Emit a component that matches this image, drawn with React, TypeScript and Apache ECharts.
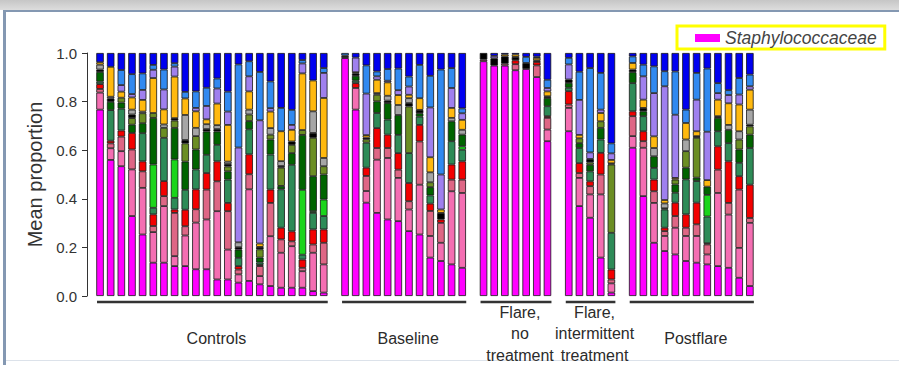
import React, { useEffect, useRef } from 'react';
import * as echarts from 'echarts';

const FONT = '"Liberation Sans", Arial, Helvetica, sans-serif';

// Stack order, bottom to top
const taxa = [
  'Staphylococcaceae', 'Taxon 2', 'Taxon 3', 'Taxon 4', 'Taxon 5', 'Taxon 6', 'Taxon 7',
  'Taxon 8', 'Taxon 9', 'Taxon 10', 'Taxon 11', 'Taxon 12', 'Taxon 13', 'Taxon 14',
];
const taxonColors = [
  '#FF00FF', '#F46EB2', '#DE6685', '#F20000', '#2E8B57', '#1BD51B', '#006400',
  '#6B8E23', '#000000', '#A6A6A6', '#FFB90F', '#9F80EE', '#3189F0', '#0000F0',
];

const groupLabels = ['Controls', 'Baseline', 'Flare,\nno\ntreatment', 'Flare,\nintermittent\ntreatment', 'Postflare'];

// each row: one sample, proportions in stack order
const controls = [
  [.767, .07, .015, .02, .01, 0, .04, 0, .01, .02, .01, 0, 0, .038],
  [.56, .048, .02, .011, .126, 0, .034, 0, .014, .007, .123, 0, 0, .057],
  [.534, .062, .06, .025, .09, 0, .025, .02, 0, 0, .025, .027, .062, .07],
  [.329, .192, .082, .068, 0, 0, .034, .027, .015, .02, .05, .014, .082, .087],
  [.253, .192, .068, .041, .116, 0, .041, .041, 0, .007, .048, .041, .068, .084],
  [.137, .126, .025, .048, .027, .178, .192, .02, 0, 0, .144, .034, .02, .049],
  [.137, .233, .041, .062, .178, 0, 0, .041, 0, .014, .062, .082, .082, .068],
  [.123, .041, .178, .014, .048, .158, .13, .03, .01, 0, .171, .041, .014, .042],
  [.123, .126, .038, .068, .082, 0, .116, .075, .014, .103, .068, 0, .027, .16],
  [.11, .192, .055, .082, .082, 0, .082, .055, 0, .034, .068, .014, .068, .158],
  [.11, .205, .123, .068, .075, 0, .096, 0, .01, .02, .02, .055, .075, .143],
  [.068, .281, .123, .082, .068, 0, .055, 0, .01, .016, .089, .062, .041, .105],
  [.068, .123, .158, .034, .096, 0, .034, .02, .01, .01, .151, .055, .082, .159],
  [.055, .034, .02, .014, .034, 0, .034, 0, .01, .02, 0, .39, .342, .047],
  [.062, .377, .062, .082, .103, 0, .034, .027, 0, .02, .075, .062, .062, .034],
  [.048, .034, .041, .005, .01, 0, .02, .034, .01, 0, .014, .507, .199, .078],
  [.041, .205, .137, .055, .144, 0, .062, .02, 0, .027, .068, .014, .11, .117],
  [.034, .144, .055, .048, .158, 0, .014, .075, .007, .02, .123, 0, .096, .226],
  [.034, .171, .02, .041, .274, 0, .048, .034, .014, 0, .048, .02, .062, .234],
  [.034, .068, .014, .034, .02, .267, .226, .02, 0, 0, .233, .041, .014, .029],
  [.02, .158, .034, .062, .068, .007, .144, .158, .02, .089, .127, 0, 0, .113],
  [.014, .116, .089, .055, .055, .068, .103, .034, 0, .034, .247, .103, .02, .062],
];

const baseline = [
  [.979, 0, .005, 0, 0, 0, 0, 0, .006, 0, 0, 0, .01, 0],
  [.767, .089, 0, .02, .01, 0, .02, 0, .01, 0, .005, .06, 0, .019],
  [.384, .048, .062, .034, .103, 0, 0, .014, .007, 0, .01, .171, .116, .051],
  [.342, .219, .048, .082, .062, 0, .048, .027, 0, .007, .055, .014, .02, .076],
  [.315, .253, .041, .055, .062, 0, .068, 0, .01, .02, .055, .007, .048, .066],
  [.308, .178, .034, .068, .075, 0, .082, 0, 0, .041, .041, .02, .089, .064],
  [.267, .089, .034, .075, .123, 0, 0, .192, .014, .02, .014, .034, .041, .097],
  [.253, .205, .178, .068, .034, 0, .014, 0, .014, 0, .048, 0, .137, .049],
  [.158, .089, .103, .03, .034, 0, .034, .02, 0, .041, .062, .205, .13, .094],
  [.144, .075, .082, .014, 0, 0, 0, 0, .027, 0, .014, .144, .432, .068],
  [.13, .301, .048, .062, .096, 0, .082, 0, 0, .014, .041, .082, .082, .062],
  [.116, .308, .055, .075, .048, .014, .048, 0, 0, .02, .041, .027, .02, .228],
];

const flareNoTreatment = [
  [.966, 0, .007, 0, 0, 0, 0, 0, .027, 0, 0, 0, 0, 0],
  [.948, 0, 0, 0, 0, 0, 0, 0, .03, 0, 0, .01, 0, .012],
  [.948, 0, .008, 0, 0, 0, 0, 0, .03, 0, .008, 0, 0, .006],
  [.929, 0, .025, .016, 0, 0, 0, 0, .014, 0, .01, 0, 0, .006],
  [.934, 0, 0, 0, 0, 0, 0, 0, .025, 0, 0, 0, .025, .016],
  [.901, 0, .048, .014, 0, 0, 0, 0, .007, 0, .01, 0, .005, .015],
  [.637, .048, .048, .007, .041, 0, .034, 0, .007, 0, .02, .014, .034, .11],
];

const flareIntermittent = [
  [.678, .096, .014, .055, .014, 0, .02, 0, .014, 0, 0, .062, .027, .02],
  [.37, .116, .02, .041, .062, 0, .02, .02, 0, 0, .014, .144, .116, .077],
  [.322, .096, .034, .02, .041, 0, .027, .01, .014, 0, 0, .027, .347, .062],
  [.158, .26, .082, .089, .055, 0, .048, .027, 0, 0, .034, .014, .151, .082],
  [.014, .038, .016, .041, .151, 0, 0, .281, .005, 0, .014, .027, .041, .372],
];

const postflare = [
  [.61, .048, .082, .02, .116, 0, .045, 0, .011, 0, .027, 0, .027, .014],
  [.411, .199, .027, .041, .062, 0, .02, 0, .014, 0, .034, .096, .048, .048],
  [.219, .164, .048, .048, .048, 0, .048, 0, 0, .034, .048, .178, .11, .055],
  [.185, .062, .02, .014, .075, 0, .005, 0, 0, .02, .014, .468, .062, .075],
  [.171, .11, .048, .055, .041, 0, .034, .02, 0, 0, .007, .26, .178, .076],
  [.144, .103, .034, .055, .144, 0, .048, .068, 0, .048, .068, 0, .055, .233],
  [.137, .11, .048, .089, .089, 0, .014, .164, .007, 0, .02, .13, .11, .082],
  [.13, .041, .041, .005, .11, .089, .034, 0, 0, 0, .027, .199, .26, .064],
  [.123, .301, .096, .096, .062, 0, .055, 0, .007, 0, .068, .027, .041, .124],
  [.116, .219, .048, .171, .075, 0, .055, 0, 0, .02, .089, .034, .02, .153],
  [.075, .123, .24, .055, .055, 0, .055, .041, 0, .034, .11, .041, .068, .103],
  [.041, .26, .02, .137, .151, 0, .055, .034, .007, .062, .082, .014, .048, .089],
];

const groups = [controls, baseline, flareNoTreatment, flareIntermittent, postflare];
const groupPrefixes = ['C', 'B', 'F', 'I', 'P'];

export default function App() {
  const ref = useRef<HTMLDivElement>(null);

  useEffect(() => {
    if (!ref.current) return;
    const chart = echarts.init(ref.current, null, { renderer: 'svg' });

    // build category slots with one empty slot between groups
    const categories: string[] = [];
    const rows: (number[] | null)[] = [];
    const spans: [string, string][] = [];
    groups.forEach((g, gi) => {
      if (gi > 0) {
        categories.push('gap' + gi);
        rows.push(null);
      }
      g.forEach((r, i) => {
        categories.push(groupPrefixes[gi] + (i + 1));
        rows.push(r);
      });
      spans.push([groupPrefixes[gi] + 1, groupPrefixes[gi] + g.length]);
    });

    const series = taxa.map((name, si) => ({
      name,
      type: 'bar',
      stack: 'total',
      barWidth: 7.5,
      data: rows.map((r) => (r && r[si] > 0 ? r[si] : '-')),
      itemStyle: { color: taxonColors[si], borderColor: '#151515', borderWidth: 0.8 },
      emphasis: { disabled: true },
    }));

    chart.setOption({
      animation: false,
      backgroundColor: '#ffffff',
      grid: { left: 94.7, right: 143.8, top: 53, bottom: 69, containLabel: false },
      legend: {
        data: ['Staphylococcaceae'],
        left: 677,
        top: 26,
        icon: 'rect',
        itemWidth: 25,
        itemHeight: 8,
        itemStyle: { borderWidth: 0 },
        padding: [3, 8, 2, 18],
        borderColor: '#FFFF00',
        borderWidth: 3,
        backgroundColor: '#ffffff',
        selectedMode: false,
        textStyle: { fontStyle: 'italic', fontSize: 17.5, color: '#444', fontFamily: FONT },
      },
      xAxis: {
        type: 'category',
        data: categories,
        axisLine: { show: false },
        axisTick: { show: false },
        axisLabel: { show: false },
      },
      yAxis: {
        type: 'value',
        min: 0,
        max: 1,
        interval: 0.2,
        offset: 7.7,
        name: 'Mean proportion',
        nameLocation: 'middle',
        nameGap: 40,
        nameTextStyle: { fontSize: 20, color: '#333', fontFamily: FONT },
        axisLine: { show: true, lineStyle: { color: '#333', width: 1 } },
        axisTick: { show: true, length: 5, lineStyle: { color: '#333' } },
        axisLabel: {
          margin: 10,
          fontSize: 15,
          color: '#333',
          fontFamily: FONT,
          formatter: (v: number) => v.toFixed(1),
        },
        splitLine: { show: false },
      },
      series,
    });

    const elements: any[] = [
      {
        type: 'rect',
        shape: { x: 0, y: 0, width: 899, height: 10 },
        style: {
          fill: new echarts.graphic.LinearGradient(0, 0, 0, 1, [
            { offset: 0, color: '#C6C6C6' },
            { offset: 1, color: '#DDDDDD' },
          ]),
        },
        silent: true,
      },
      { type: 'rect', shape: { x: 3, y: 10, width: 896, height: 2 }, style: { fill: '#8498B2' }, silent: true },
      { type: 'rect', shape: { x: 3, y: 10, width: 3, height: 355 }, style: { fill: '#8498B2' }, silent: true },
      { type: 'rect', shape: { x: 6, y: 360, width: 893, height: 1 }, style: { fill: '#DCE2EA' }, silent: true },
    ];

    spans.forEach(([a, b], i) => {
      const xa = chart.convertToPixel({ xAxisIndex: 0 }, a) as number;
      const xb = chart.convertToPixel({ xAxisIndex: 0 }, b) as number;
      const x1 = xa - 3;
      const x2 = xb + 4;
      elements.push({
        type: 'line',
        shape: { x1, y1: 302, x2, y2: 302 },
        style: { stroke: '#333', lineWidth: 2.5 },
        silent: true,
      });
      const multi = groupLabels[i].includes('\n');
      elements.push({
        type: 'text',
        x: (x1 + x2) / 2 + 4,
        y: multi ? 333.5 : 338,
        style: {
          text: groupLabels[i],
          fill: '#2b2b2b',
          font: '16px ' + FONT,
          align: 'center',
          verticalAlign: 'middle',
          lineHeight: 21.5,
        },
        silent: true,
      });
    });

    chart.setOption({ graphic: { elements } });

    return () => chart.dispose();
  }, []);

  return (
    <div
      ref={ref}
      style={{ position: 'fixed', left: 0, top: 0, width: 899, height: 365, background: '#ffffff' }}
    />
  );
}
